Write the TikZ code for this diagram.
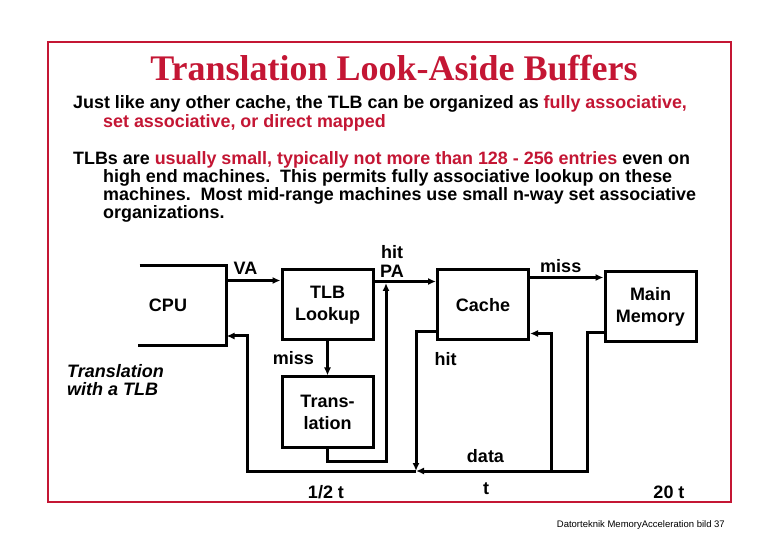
\documentclass[tikz,border=0pt]{standalone}
\usepackage{fontspec}
\setmainfont{Liberation Sans}
\newfontfamily\titlefont{Liberation Serif}
\usepackage{xcolor}
\usetikzlibrary{arrows.meta,positioning,calc}
\definecolor{tlbred}{RGB}{196,22,52}
\tikzset{
  unit/.style={draw,line width=3pt,minimum width=91pt,minimum height=70pt,align=center,font=\fontsize{18}{22}\bfseries\selectfont,inner sep=0pt},
  arrow/.style={-{Latex[length=8pt,width=7pt]},line width=3pt},
  wire/.style={line width=3pt},
  lbl/.style={font=\fontsize{18}{19}\bfseries\selectfont,inner sep=0pt,align=center},
  body/.style={anchor=base west,inner sep=0pt,font=\fontsize{17.9}{18}\bfseries\selectfont}
}
\begin{document}
\begin{tikzpicture}[x=1pt,y=-1pt]
\useasboundingbox[fill=white] (0,0) rectangle (780,540);
\draw[tlbred,line width=1.8pt] (48,42) rectangle (731,502);
% title and text
\node[font=\titlefont\fontsize{36}{36}\bfseries\selectfont,text=tlbred,anchor=base] (title) at (394,81) {Translation Look-Aside Buffers};
\node[body] (p1a) at (73,109) {Just like any other cache, the TLB can be organized as \textcolor{tlbred}{fully associative,}};
\node[body,text=tlbred] (p1b) at (103,128) {set associative, or direct mapped};
\node[body] (p2a) at (73,165) {TLBs are \textcolor{tlbred}{usually small, typically not more than 128 - 256 entries} even on};
\node[body] (p2b) at (103,183) {high end machines.\ \ This permits fully associative lookup on these};
\node[body] (p2c) at (103,201) {machines.\ \ Most mid-range machines use small n-way set associative};
\node[body] (p2d) at (103,219) {organizations.};

% units
\node[unit,draw=none,minimum width=86pt,minimum height=77pt] (cpu) at (182,305.5) {};
\draw[wire] ([xshift=2pt]cpu.north west) -- (cpu.north east) -- (cpu.south east) -- (cpu.south west);
\node[lbl] (cputxt) at (168,305) {CPU};
\node[unit] (tlb) at (327.5,305) {TLB\\Lookup};
\node[unit] (trans) at (327.5,412) {Trans-\\lation};
\node[unit] (cache) at (483,305) {Cache};
\node[unit] (mem) at (650.5,307) {Main\\Memory};
\node[lbl,font=\fontsize{18}{18}\bfseries\itshape\selectfont,align=left,anchor=north west] (caption) at (67,364) {Translation\\with a TLB};

% connectors
\coordinate (pa) at (386,283);
\coordinate (hitend) at (416,471);
\coordinate (fork) at (551,471);
\coordinate (drop) at (587,471);
\draw[arrow] ([yshift=-12pt]tlb.north west -| cpu.east) -- node[lbl,above=4pt,xshift=-8pt]{VA} ([yshift=-12pt]tlb.north west);
\draw[arrow] ([yshift=-13pt]tlb.north east) -- ([yshift=-13pt]cache.north west);
\node[lbl] (hitpa) at (392,261) {hit\\PA};
\draw[arrow] (tlb) -- node[lbl,left=12pt]{miss} (trans);
\draw[arrow] (trans.south) -- ++(0,13) -| (pa);
\draw[arrow] ([yshift=-9pt]cache.north east) -- node[lbl,above=3pt,xshift=-6pt]{miss} ([yshift=-7pt]mem.north west);
\draw[arrow] ([yshift=10pt]cache.south west) -| node[lbl,pos=0.6,right=17pt]{hit} (hitend);
\draw[arrow] ([yshift=11pt]mem.south west) -| (drop) -- node[lbl,above=7pt,xshift=-16pt]{data} (hitend);
\draw[arrow] (hitend) -| (247,336) -- (cpu.east |- 0,336);
\draw[arrow] (fork) |- ([yshift=8pt]cache.south east);

% timings
\node[lbl] (thalf) at (326,492) {1/2 t};
\node[lbl] (tone) at (486,489) {t};
\node[lbl] (ttwenty) at (669,492) {20 t};
\node[font=\fontsize{9.5}{10}\selectfont,anchor=base east,inner sep=0pt] (foot) at (725,527) {Datorteknik MemoryAcceleration bild 37};
\end{tikzpicture}
\end{document}
